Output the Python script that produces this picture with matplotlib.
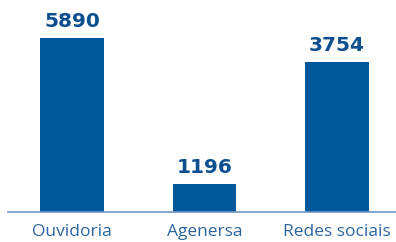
import matplotlib.pyplot as plt

categories = ["Ouvidoria", "Agenersa", "Redes sociais"]
values = [5890, 1196, 3754]
# the original bars are not drawn to scale, so keep the heights as read off the picture
bar_heights = [5890, 950, 5080]

bar_color = "#00579a"
label_color = "#0b4f8f"
tick_color = "#2c64a0"
axis_color = "#6f97c4"

fig = plt.figure(figsize=(3.96, 2.42), dpi=100)
ax = fig.add_axes([0.0202, 0.124, 0.9798, 0.876])

x = range(len(categories))
bars = ax.bar(x, bar_heights, width=0.48, color=bar_color)

for rect, v in zip(bars, values):
    ax.annotate(str(v), (rect.get_x() + rect.get_width() / 2, rect.get_height()),
                xytext=(0, 5), textcoords="offset points", ha="center", va="bottom",
                fontsize=14.5, fontweight="bold", color=label_color, family="DejaVu Sans")

ax.set_xlim(-0.483, 2.445)
ax.set_ylim(0, 7176)
ax.set_xticks(list(x))
ax.set_xticklabels(categories, fontsize=12.5, color=tick_color, family="Open Sans")
ax.tick_params(axis="x", length=0, pad=9)
ax.set_yticks([])

for s in ["top", "right", "left"]:
    ax.spines[s].set_visible(False)
ax.spines["bottom"].set_color(axis_color)
ax.spines["bottom"].set_linewidth(1.2)

fig.savefig("out.png", dpi=100)
